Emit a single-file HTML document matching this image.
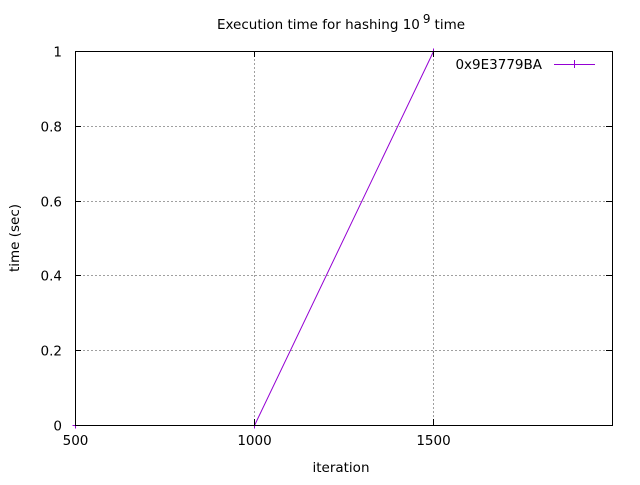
<!DOCTYPE html>
<html><head><meta charset="utf-8"><style>
body{margin:0;background:#fff}
svg text{font-family:"DejaVu Sans","Liberation Sans",sans-serif;font-size:13.5px;fill:#000}
</style></head><body>
<svg id="c" width="640" height="480" xmlns="http://www.w3.org/2000/svg">
<text x="341" y="29" text-anchor="middle">Execution time for hashing 10<tspan dx="3" dy="-6" font-size="12">9</tspan><tspan dx="4" dy="6">time</tspan></text>
<text x="341" y="472" text-anchor="middle">iteration</text>
<text transform="translate(19,238) rotate(-90)" text-anchor="middle">time (sec)</text>
<g id="grid"></g>
<g id="series"></g>
<g id="axes"></g>
<g>
<text x="542" y="69" text-anchor="end">0x9E3779BA</text>
<line x1="554" y1="64.5" x2="595" y2="64.5" stroke="#9400d3" stroke-width="1"/>
<line x1="574.5" y1="60" x2="574.5" y2="68" stroke="#9400d3" stroke-width="1"/>
</g>
</svg>
<script>
const xValues=[500,1000,1500];
const yValues=[0,0,1];
const xTicks=[500,1000,1500,2000];
const xTickLabels=["500","1000","1500",""];
const yTicks=[0,0.2,0.4,0.6,0.8,1];
const yTickLabels=["0","0.2","0.4","0.6","0.8","1"];
const L=75,R=612,T=51,B=425;
const sx=v=>L+(v-500)/(2000-500)*(R-L);
const sy=v=>B-(v-0)/(1-0)*(B-T);
const NS="http://www.w3.org/2000/svg";
function mk(tag,attrs,parent){const e=document.createElementNS(NS,tag);for(const k in attrs)e.setAttribute(k,attrs[k]);document.getElementById(parent).appendChild(e);return e;}
xTicks.forEach((t,i)=>{const x=Math.round(sx(t))+0.5;
 if(t>500&&t<2000){const g=mk('line',{x1:x,y1:T,x2:x,y2:B,stroke:'#a0a0a0','stroke-dasharray':'2,2'},'grid');
 
 }
 const a=mk('line',{x1:x,y1:B,x2:x,y2:B-6,stroke:'#000'},'axes');
 
 
 const b=mk('line',{x1:x,y1:T,x2:x,y2:T+6,stroke:'#000'},'axes');
 
 
 const l=mk('text',{x:x,y:B+20,'text-anchor':'middle'},'axes');l.textContent=xTickLabels[i];
 
 
});
yTicks.forEach((t,i)=>{const y=Math.round(sy(t))+0.5;
 if(t>0&&t<1){const g=mk('line',{x1:L,y1:y,x2:R,y2:y,stroke:'#a0a0a0','stroke-dasharray':'2,2'},'grid');
 
 }
 const a=mk('line',{x1:L,y1:y,x2:L+6,y2:y,stroke:'#000'},'axes');
 
 
 const b=mk('line',{x1:R,y1:y,x2:R-6,y2:y,stroke:'#000'},'axes');
 
 
 const l=mk('text',{x:L-13,y:y+5,'text-anchor':'end'},'axes');l.textContent=yTickLabels[i];
 
 
});
const pts=xValues.map((v,i)=>(sx(v)+0.5)+','+(sy(yValues[i])+0.5)).join(' ');
const pl=mk('polyline',{points:pts,fill:'none',stroke:'#9400d3','stroke-width':1},'series');


xValues.forEach((v,i)=>{const x=sx(v)+0.5,y=sy(yValues[i])+0.5;
 const h=mk('path',{d:`M${x-3},${y}H${x+3}M${x},${y-3}V${y+3}`,stroke:'#9400d3'},'series');
 
 
});
const fr=mk('rect',{x:L+0.5,y:T+0.5,width:R-L,height:B-T,fill:'none',stroke:'#000'},'axes');


</script>
</body></html>
